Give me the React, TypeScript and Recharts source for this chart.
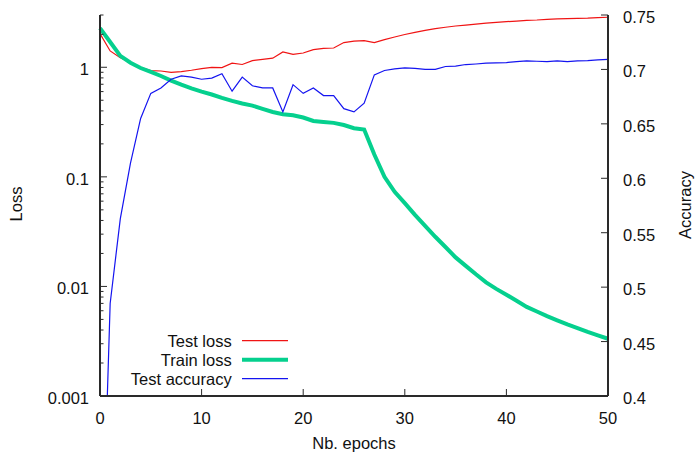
import { LineChart, Line, XAxis, YAxis, Legend } from "recharts";

const epochs = [
  0, 1, 2, 3, 4, 5, 6, 7, 8, 9, 10, 11, 12, 13, 14, 15, 16, 17, 18, 19, 20, 21, 22, 23, 24, 25,
  26, 27, 28, 29, 30, 31, 32, 33, 34, 35, 36, 37, 38, 39, 40, 41, 42, 43, 44, 45, 46, 47, 48, 49, 50,
];

const testLoss = [
  2.03, 1.41, 1.22, 1.1, 1.0, 0.933, 0.925, 0.9, 0.914, 0.939, 0.973, 1.0, 0.994, 1.09, 1.06, 1.15,
  1.18, 1.21, 1.38, 1.31, 1.35, 1.45, 1.49, 1.5, 1.68, 1.73, 1.75, 1.68, 1.79, 1.89, 1.99, 2.08,
  2.17, 2.25, 2.32, 2.38, 2.43, 2.48, 2.53, 2.57, 2.61, 2.64, 2.68, 2.7, 2.74, 2.76, 2.78, 2.8, 2.81,
  2.84, 2.86,
];

const trainLoss = [
  2.28, 1.7, 1.27, 1.1, 0.985, 0.906, 0.833, 0.756, 0.695, 0.643, 0.6, 0.564, 0.525, 0.493, 0.467,
  0.447, 0.417, 0.391, 0.373, 0.365, 0.348, 0.324, 0.317, 0.311, 0.297, 0.278, 0.27, 0.16, 0.1,
  0.073, 0.0576, 0.045, 0.0357, 0.0284, 0.0229, 0.0184, 0.0154, 0.0129, 0.0109, 0.0095, 0.0084,
  0.0074, 0.0065, 0.0059, 0.00535, 0.0049, 0.0045, 0.00417, 0.00384, 0.00358, 0.00333,
];

const testAccuracy = [
  0.18, 0.485, 0.563, 0.614, 0.655, 0.678, 0.683, 0.691, 0.694, 0.693, 0.691, 0.692, 0.696, 0.68,
  0.693, 0.685, 0.683, 0.683, 0.661, 0.686, 0.678, 0.683, 0.676, 0.676, 0.664, 0.661, 0.669, 0.695,
  0.699, 0.7005, 0.7015, 0.701, 0.7, 0.7, 0.7027, 0.703, 0.7045, 0.705, 0.7057, 0.706, 0.7063,
  0.7072, 0.7078, 0.7075, 0.7072, 0.7078, 0.7072, 0.7078, 0.708, 0.7087, 0.7093,
];

const seriesNames = ["Test loss", "Train loss", "Test accuracy"];
const epochTicks = [0, 10, 20, 30, 40, 50];
const lossMajorTicks = [0.001, 0.01, 0.1, 1];
const lossTicks = [
  0.001, 0.002, 0.003, 0.004, 0.005, 0.006, 0.007, 0.008, 0.009,
  0.01, 0.02, 0.03, 0.04, 0.05, 0.06, 0.07, 0.08, 0.09,
  0.1, 0.2, 0.3, 0.4, 0.5, 0.6, 0.7, 0.8, 0.9,
  1, 2, 3,
];
const accTicks = [0.4, 0.45, 0.5, 0.55, 0.6, 0.65, 0.7, 0.75];
const accLabels = ["0.4", "0.45", "0.5", "0.55", "0.6", "0.65", "0.7", "0.75"];

const data = epochs.map((e, i) => ({
  epoch: e,
  testLoss: testLoss[i],
  trainLoss: trainLoss[i],
  testAcc: testAccuracy[i],
}));

// plot box (gnuplot-ish frame)
const LEFT = 100;
const RIGHT = 608;
const TOP = 15;
const BOTTOM = 396;
const BORDER = "#2a2a2a";
const FONT = "'Liberation Sans', Arial, sans-serif";
const FS = 16.5;

const textStyle = { fontFamily: FONT, fontSize: FS, fill: "#111" };

function LossTick({ y, payload }: any) {
  const v = payload.value;
  const major = lossMajorTicks.includes(v);
  return (
    <g>
      <line x1={LEFT} x2={LEFT + (major ? 7 : 3.5)} y1={y} y2={y} stroke={BORDER} strokeWidth={1} />
      {major && (
        <text x={LEFT - 11} y={y + 2} dy="0.36em" textAnchor="end" {...textStyle}>
          {String(v)}
        </text>
      )}
    </g>
  );
}

function AccTick({ y, payload, index }: any) {
  return (
    <g>
      <line x1={RIGHT} x2={RIGHT - 7} y1={y} y2={y} stroke={BORDER} strokeWidth={1} />
      <text x={RIGHT + 15} y={y + 2} dy="0.36em" textAnchor="start" {...textStyle}>
        {accLabels[index] ?? String(payload.value)}
      </text>
    </g>
  );
}

function EpochTick({ x, payload }: any) {
  return (
    <g>
      <line x1={x} x2={x} y1={BOTTOM} y2={BOTTOM - 7} stroke={BORDER} strokeWidth={1} />
      <text x={x} y={418} dy="0.36em" textAnchor="middle" {...textStyle}>
        {payload.value}
      </text>
    </g>
  );
}

function TopTick({ x }: any) {
  return <line x1={x} x2={x} y1={TOP} y2={TOP + 7} stroke={BORDER} strokeWidth={1} />;
}

function LegendBox({ payload }: any) {
  const widths: Record<string, number> = { "Test loss": 1.2, "Train loss": 4, "Test accuracy": 1.2 };
  // keep plot order, not alphabetical
  const items = [...(payload || [])].sort(
    (a: any, b: any) => seriesNames.indexOf(a.value) - seriesNames.indexOf(b.value)
  );
  return (
    <svg width={200} height={60}>
      {items.map((p: any, i: number) => {
        const cy = 10.7 + i * 19;
        return (
          <g key={p.value}>
            <text x={131.7} y={cy} dy="0.36em" textAnchor="end" {...textStyle}>
              {p.value}
            </text>
            <line x1={142} x2={188} y1={cy} y2={cy} stroke={p.color} strokeWidth={widths[p.value] ?? 1} />
          </g>
        );
      })}
    </svg>
  );
}

export default function App() {
  return (
    <div style={{ position: "absolute", left: 0, top: 0, background: "#fff" }}>
      <LineChart width={695} height={454} data={data} margin={{ top: TOP, right: 0, bottom: 0, left: 0 }}>
        <XAxis
          dataKey="epoch"
          type="number"
          domain={[0, 50]}
          ticks={epochTicks}
          interval={0}
          height={454 - BOTTOM}
          axisLine={{ stroke: BORDER, strokeWidth: 2 }}
          tickLine={false}
          tick={<EpochTick />}
          label={{
            content: () => (
              <text x={354} y={449} textAnchor="middle" {...textStyle}>
                Nb. epochs
              </text>
            ),
          }}
        />
        <XAxis
          xAxisId="top"
          orientation="top"
          dataKey="epoch"
          type="number"
          domain={[0, 50]}
          ticks={epochTicks}
          interval={0}
          height={0}
          axisLine={{ stroke: BORDER, strokeWidth: 2 }}
          tickLine={false}
          tick={<TopTick />}
        />
        <YAxis
          yAxisId="loss"
          scale="log"
          type="number"
          domain={[0.001, 3]}
          allowDataOverflow
          ticks={lossTicks}
          interval={0}
          width={LEFT}
          axisLine={{ stroke: BORDER, strokeWidth: 2 }}
          tickLine={false}
          tick={<LossTick />}
          label={{
            content: () => (
              <text x={16} y={204} transform="rotate(-90 16 204)" dy="0.36em" textAnchor="middle" {...textStyle}>
                Loss
              </text>
            ),
          }}
        />
        <YAxis
          yAxisId="acc"
          orientation="right"
          type="number"
          domain={[0.4, 0.75]}
          allowDataOverflow
          ticks={accTicks}
          interval={0}
          width={695 - RIGHT}
          axisLine={{ stroke: BORDER, strokeWidth: 2 }}
          tickLine={false}
          tick={<AccTick />}
          label={{
            content: () => (
              <text x={685} y={205} transform="rotate(-90 685 205)" dy="0.36em" textAnchor="middle" {...textStyle}>
                Accuracy
              </text>
            ),
          }}
        />
        <Legend
          layout="vertical"
          align="center"
          verticalAlign="middle"
          wrapperStyle={{ left: 100, top: 330, width: 200, height: 60 }}
          content={<LegendBox />}
        />
        <Line
          yAxisId="loss"
          dataKey="testLoss"
          name="Test loss"
          stroke="#f01414"
          strokeWidth={1.2}
          dot={false}
          isAnimationActive={false}
        />
        <Line
          yAxisId="loss"
          dataKey="trainLoss"
          name="Train loss"
          stroke="#05d08e"
          strokeWidth={4}
          dot={false}
          isAnimationActive={false}
        />
        <Line
          yAxisId="acc"
          dataKey="testAcc"
          name="Test accuracy"
          stroke="#1414f0"
          strokeWidth={1.2}
          dot={false}
          isAnimationActive={false}
        />
      </LineChart>
    </div>
  );
}
